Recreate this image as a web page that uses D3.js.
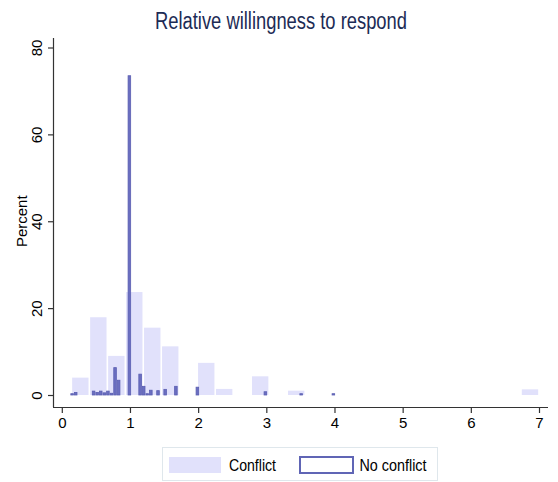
<!DOCTYPE html>
<html>
<head>
<meta charset="utf-8">
<script src="https://cdn.jsdelivr.net/npm/d3@7/dist/d3.min.js"></script>
<style>
  html, body { margin: 0; padding: 0; background: #fff; }
  svg { display: block; font-family: "Liberation Sans", Arial, Helvetica, sans-serif; }
</style>
</head>
<body>
<svg id="chart" width="558" height="482"></svg>
<script>
// ---- Data ----
const title = "Relative willingness to respond";
const yLabel = "Percent";
const xTicks = [0, 1, 2, 3, 4, 5, 6, 7];
const yTicks = [0, 20, 40, 60, 80];
const seriesNames = ["Conflict", "No conflict"];

// Conflict histogram (bin lower edges, percent)
const conflictBinWidth = 0.2638;
const conflictStarts = [0.140, 0.404, 0.668, 0.931, 1.195, 1.459, 1.987, 2.250, 2.778, 3.306, 6.736];
const conflictPct    = [4.0,   17.9,  9.0,   23.7,  15.5,  11.2,  7.4,   1.4,   4.3,   1.0,   1.3];

// No conflict histogram (bin lower edges, percent)
const noConflictBinWidth = 0.0525;
const noConflictStarts = [0.125, 0.1775, 0.440, 0.4925, 0.545, 0.5975, 0.650, 0.7025, 0.755, 0.8075,
                          0.965, 1.1225, 1.175, 1.2275, 1.280, 1.385, 1.490, 1.6475, 1.9625, 2.960, 3.485, 3.9575];
const noConflictPct    = [0.3,   0.6,    0.9,   0.6,    0.9,   0.5,    0.9,   0.4,    6.3,   3.4,
                          73.5,  4.8,    2.0,   0.3,    1.1,   1.0,    1.3,   2.0,    1.8,   0.75,  0.3,   0.3];

// ---- Drawing ----
const svg = d3.select("#chart");
const x = d3.scaleLinear().domain([0, 7]).range([61.8, 539]);
const y = d3.scaleLinear().domain([0, 80]).range([395, 47.5]);

const conflictColor = "#e1e1fb";
const ncFill = "#6a6ec0";
const ncStroke = "#5b5fb2";
const axisColor = "#333";

// Title
svg.append("text")
  .attr("x", 281).attr("y", 28.5)
  .attr("text-anchor", "middle")
  .attr("font-size", 23)
  .attr("fill", "#1c2b55")
  .attr("textLength", 252).attr("lengthAdjust", "spacingAndGlyphs")
  .text(title);

// Conflict bars
const conflictData = conflictStarts.map((s, i) => ({ s, v: conflictPct[i] }));
svg.append("g").selectAll("rect").data(conflictData).join("rect")
  .attr("x", d => x(d.s) + 0.8)
  .attr("width", d => x(d.s + conflictBinWidth) - x(d.s) - 1.6)
  .attr("y", d => y(d.v))
  .attr("height", d => y(0) - y(d.v))
  .attr("fill", conflictColor);

// No conflict bars
const ncData = noConflictStarts.map((s, i) => ({ s, v: noConflictPct[i] }));
svg.append("g").selectAll("rect").data(ncData).join("rect")
  .attr("x", d => x(d.s) + 0.5)
  .attr("width", d => Math.max(0.5, x(d.s + noConflictBinWidth) - x(d.s) - 1))
  .attr("y", d => y(d.v))
  .attr("height", d => y(0) - y(d.v))
  .attr("fill", ncFill)
  .attr("stroke", ncStroke)
  .attr("stroke-width", 0.8);

// X axis
const xAxisY = 407;
const xAxis = d3.axisBottom(x).tickValues(xTicks).tickSize(6).tickPadding(4).tickFormat(d3.format("d"));
const gx = svg.append("g").attr("transform", `translate(0,${xAxisY})`).call(xAxis);
gx.select(".domain").remove();
gx.append("line").attr("x1", 53).attr("x2", 548).attr("y1", 0.5).attr("y2", 0.5)
  .attr("stroke", axisColor).attr("stroke-width", 1.2);
gx.selectAll(".tick line").attr("stroke", axisColor).attr("stroke-width", 1.2);
gx.selectAll(".tick text").attr("fill", "#000").attr("font-size", 15)
  .attr("font-family", "'Liberation Sans', Arial, sans-serif");

// Y axis
const yAxisX = 53;
const yAxis = d3.axisLeft(y).tickValues(yTicks).tickSize(5).tickFormat(d3.format("d"));
const gy = svg.append("g").attr("transform", `translate(${yAxisX},0)`).call(yAxis);
gy.select(".domain").remove();
gy.append("line").attr("x1", 0.5).attr("x2", 0.5).attr("y1", 38).attr("y2", xAxisY)
  .attr("stroke", axisColor).attr("stroke-width", 1.2);
gy.selectAll(".tick line").attr("stroke", axisColor).attr("stroke-width", 1.2);
gy.selectAll(".tick text").remove();
gy.selectAll(".tick").append("text")
  .attr("transform", "translate(-11,0) rotate(-90)")
  .attr("text-anchor", "middle")
  .attr("dy", "0")
  .attr("fill", "#000").attr("font-size", 15)
  .attr("font-family", "'Liberation Sans', Arial, sans-serif")
  .text(d => d3.format("d")(d));

// Y label
svg.append("text")
  .attr("transform", `translate(27,${y(40)}) rotate(-90)`)
  .attr("text-anchor", "middle")
  .attr("font-size", 15)
  .attr("fill", "#000")
  .text(yLabel);

// Legend
const lg = svg.append("g");
lg.append("rect").attr("x", 162.5).attr("y", 447.5).attr("width", 275).attr("height", 33)
  .attr("fill", "#fff").attr("stroke", "#dfe7ec").attr("stroke-width", 1);
lg.append("rect").attr("x", 169).attr("y", 457).attr("width", 52).attr("height", 16)
  .attr("fill", conflictColor);
lg.append("text").attr("x", 229).attr("y", 471).attr("font-size", 16).attr("fill", "#000")
  .attr("textLength", 47).attr("lengthAdjust", "spacingAndGlyphs")
  .text(seriesNames[0]);
lg.append("rect").attr("x", 300).attr("y", 457).attr("width", 53).attr("height", 16)
  .attr("fill", "#fff").attr("stroke", "#6065b5").attr("stroke-width", 2);
lg.append("text").attr("x", 359.5).attr("y", 471).attr("font-size", 16).attr("fill", "#000")
  .attr("textLength", 67).attr("lengthAdjust", "spacingAndGlyphs")
  .text(seriesNames[1]);
</script>
</body>
</html>
